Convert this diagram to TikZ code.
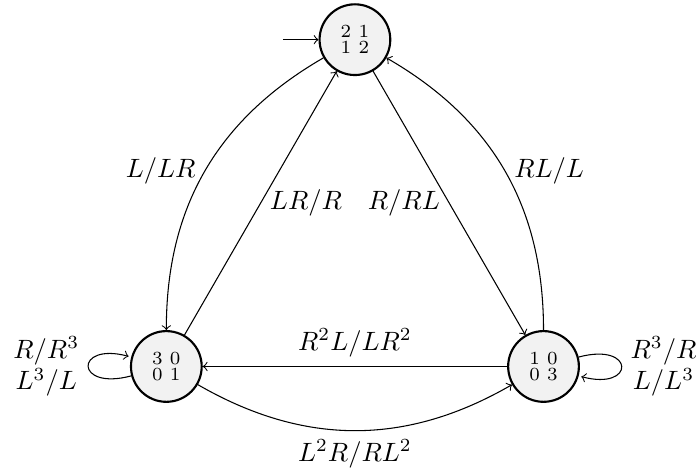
\documentclass[tikz,border=0pt]{standalone}
\usepackage{amsmath}
\tikzset{
  st/.style={circle,draw,thick,fill=gray!10,minimum size=0.938cm,inner sep=0pt},
  tr/.style={->}
}
\begin{document}
\begin{tikzpicture}
\useasboundingbox (0,0) rectangle (9.257,6.286);
\node[st] (t) at (4.707,5.76) {$\begin{smallmatrix}2&1\\1&2\end{smallmatrix}$};
\node[st] (l) at (2.206,1.426) {$\begin{smallmatrix}3&0\\0&1\end{smallmatrix}$};
\node[st] (r) at (7.208,1.426) {$\begin{smallmatrix}1&0\\0&3\end{smallmatrix}$};
\coordinate (init) at (3.753,5.76);
\draw[tr] (init) -- (t);
\draw[tr] (t) to[bend right=30] node[left] {$L/LR$} (l);
\draw[tr] (l) -- node[right] {$LR/R$} (t);
\draw[tr] (t) -- node[left] {$R/RL$} (r);
\draw[tr] (r) to[bend right=30] node[right] {$RL/L$} (t);
\draw[tr] (r) -- node[above] {$R^2L/LR^2$} (l);
\draw[tr] (l) to[bend right=30] node[below] {$L^2R/RL^2$} (r);
\path (l) edge[loop left] node[left,align=center] {$R/R^3$\\$L^3/L$} (l);
\path (r) edge[loop right] node[right,align=center] {$R^3/R$\\$L/L^3$} (r);
\end{tikzpicture}
\end{document}
